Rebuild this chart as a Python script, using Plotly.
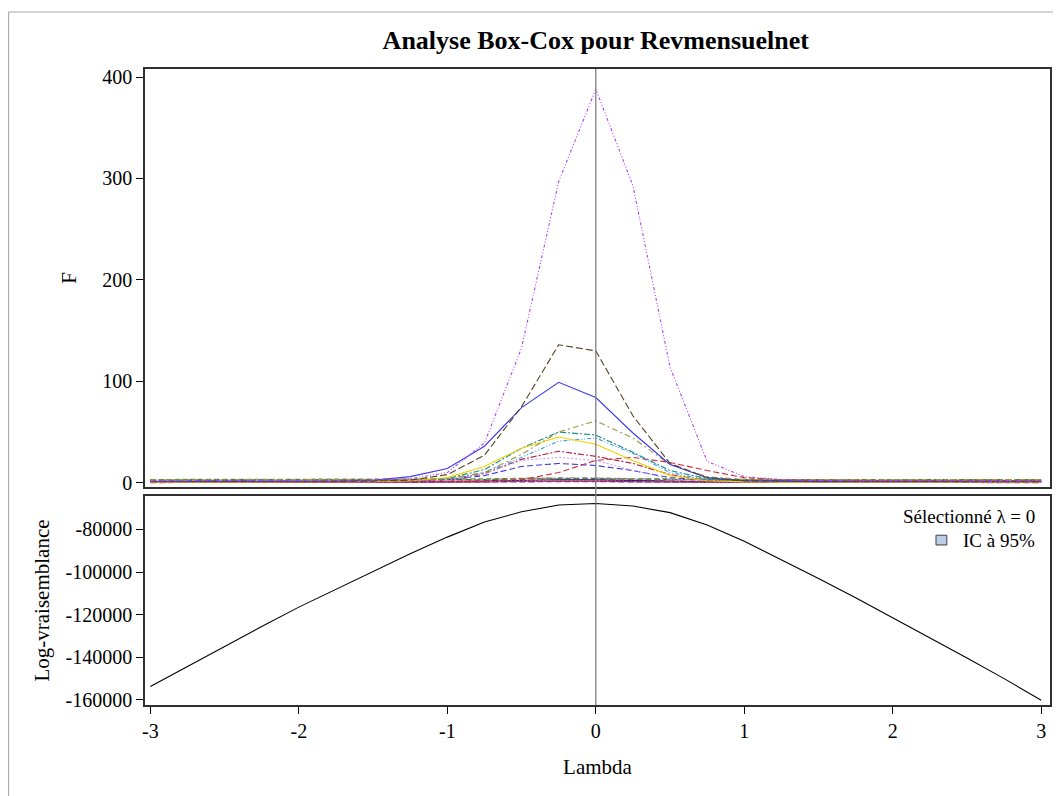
import plotly.graph_objects as go
from plotly.subplots import make_subplots

# ---------------- data ----------------
lambdas = [-3, -2.75, -2.5, -2.25, -2, -1.75, -1.5, -1.25, -1, -0.75, -0.5, -0.25,
           0, 0.25, 0.5, 0.75, 1, 1.25, 1.5, 1.75, 2, 2.25, 2.5, 2.75, 3]

F_violet = [1.8, 1.8, 1.9, 1.9, 2.0, 2.2, 2.6, 4, 10, 39, 133, 297, 388, 293, 114, 21, 6, 3, 2.2, 2, 1.9, 1.8, 1.8, 1.7, 1.7]
F_brun = [1.2, 1.2, 1.2, 1.3, 1.3, 1.4, 1.6, 2.5, 8, 27, 75, 136, 130, 66, 19, 5, 2, 1.5, 1.3, 1.2, 1.2, 1.2, 1.1, 1.1, 1.1]
F_bleu = [1.0, 1.0, 1.1, 1.1, 1.2, 1.5, 2.5, 6, 14, 36, 74, 99, 84, 49, 18, 5, 2, 1.3, 1.1, 1, 1, 1, 1, 1, 1]
F_olive = [2.8, 2.8, 2.8, 2.8, 2.9, 2.9, 3.0, 3.2, 4, 10, 28, 50, 61, 44, 18, 6, 3.2, 3, 2.9, 2.9, 2.9, 3, 3, 3, 3.1]
F_sarcelle = [0.8, 0.8, 0.8, 0.9, 0.9, 1, 1.2, 2, 4, 13, 34, 50, 47, 30, 12, 4, 1.5, 1, 0.9, 0.9, 0.8, 0.8, 0.8, 0.8, 0.8]
F_or = [0.5, 0.5, 0.5, 0.5, 0.6, 0.7, 1.0, 2, 5, 16, 34, 45, 38, 22, 7, 2, 0.8, 0.6, 0.5, 0.5, 0.5, 0.5, 0.5, 0.5, 0.5]
F_azur = [1.5, 1.5, 1.5, 1.5, 1.5, 1.6, 1.8, 2.2, 3, 10, 25, 41, 44, 29, 10, 3, 1.8, 1.6, 1.5, 1.5, 1.5, 1.5, 1.5, 1.5, 1.5]
F_cramoisi = [0.9, 0.9, 0.9, 0.9, 1.0, 1.0, 1.2, 1.5, 2, 9, 23, 31, 26, 19, 8, 2, 1.2, 1, 0.9, 0.9, 0.9, 0.9, 0.9, 0.9, 0.9]
F_lavande = [0.4, 0.4, 0.4, 0.4, 0.5, 0.6, 0.8, 1.2, 2, 9, 22, 25, 22, 12, 4, 1.5, 0.8, 0.6, 0.5, 0.4, 0.4, 0.4, 0.4, 0.4, 0.4]
F_bleu_tirets = [2.2, 2.2, 2.2, 2.2, 2.2, 2.3, 2.4, 2.6, 3, 7, 16, 19, 17, 12, 5, 2.5, 2.3, 2.2, 2.2, 2.2, 2.2, 2.2, 2.2, 2.2, 2.2]
F_rouge = [1.0, 1.0, 1.0, 1.0, 1.0, 1.0, 1.1, 1.2, 1.5, 2, 3, 10, 22, 25, 20, 12, 5, 3, 2.5, 2.2, 2.0, 1.9, 1.8, 1.8, 1.8]
F_vert_fonce = [2.6, 2.6, 2.6, 2.6, 2.6, 2.6, 2.7, 2.7, 2.8, 3.2, 3.8, 4.2, 4.0, 3.5, 3.0, 2.8, 2.7, 2.7, 2.7, 2.7, 2.7, 2.7, 2.8, 2.8, 2.8]
F_orange = [1.3, 1.3, 1.3, 1.3, 1.3, 1.3, 1.3, 1.4, 1.5, 2.0, 2.8, 3.2, 3.0, 2.4, 1.8, 1.5, 1.4, 1.3, 1.3, 1.3, 1.3, 1.3, 1.3, 1.3, 1.3]
F_rose = [0.3, 0.3, 0.3, 0.3, 0.3, 0.3, 0.3, 0.4, 0.5, 1.0, 1.8, 2.2, 2.0, 1.4, 0.8, 0.5, 0.4, 0.3, 0.3, 0.3, 0.3, 0.3, 0.3, 0.3, 0.3]
F_gris = [2.0, 2.0, 2.0, 2.0, 2.0, 2.0, 2.1, 2.2, 2.5, 3.2, 4.2, 5.0, 4.8, 3.8, 2.8, 2.3, 2.1, 2.0, 2.0, 2.0, 2.0, 2.0, 2.0, 2.0, 2.0]
F_marine = [0.6, 0.6, 0.6, 0.6, 0.6, 0.6, 0.6, 0.7, 0.9, 1.5, 2.5, 3.0, 2.8, 2.0, 1.2, 0.8, 0.7, 0.6, 0.6, 0.6, 0.6, 0.6, 0.6, 0.6, 0.6]
F_magenta = [0.1, 0.1, 0.1, 0.1, 0.1, 0.1, 0.1, 0.1, 0.2, 0.4, 0.8, 1.0, 0.9, 0.6, 0.3, 0.2, 0.1, 0.1, 0.1, 0.1, 0.1, 0.1, 0.1, 0.1, 0.1]
F_bordeaux = [0.2, 0.2, 0.2, 0.2, 0.2, 0.2, 0.2, 0.3, 0.4, 0.8, 1.4, 1.8, 1.6, 1.1, 0.6, 0.3, 0.2, 0.2, 0.2, 0.2, 0.2, 0.2, 0.2, 0.2, 0.2]
F_vert_olive = [3.2, 3.2, 3.2, 3.2, 3.2, 3.2, 3.2, 3.3, 3.4, 3.8, 4.4, 4.6, 4.4, 4.0, 3.6, 3.4, 3.3, 3.2, 3.2, 3.2, 3.2, 3.2, 3.2, 3.2, 3.2]

log_vraisemblance = [-153800, -144300, -134900, -125600, -116500, -108200, -99900, -91400, -83600,
                     -76500, -71700, -68500, -67800, -69000, -72100, -77900, -85500, -94100,
                     -103000, -112100, -121500, -131000, -140400, -150100, -160300]

F_ticks = [0, 100, 200, 300, 400]
LL_ticks = [-80000, -100000, -120000, -140000, -160000]
LL_ticktext = ["-80000", "-100000", "-120000", "-140000", "-160000"]
lambda_ticks = [-3, -2, -1, 0, 1, 2, 3]
lambda_ticktext = ["-3", "-2", "-1", "0", "1", "2", "3"]
lambda_choisi = 0

# (series, colour, dash)
series = [
    (F_vert_olive, "#7a8a2a", "5px,3px"),
    (F_vert_fonce, "#1f7a3a", "6px,3px"),
    (F_gris, "#8a8a8a", "5px,3px,1px,3px"),
    (F_bleu_tirets, "#3a3ad8", "6px,3px"),
    (F_azur, "#2e9cf0", "4px,2px,1px,2px,1px,2px"),
    (F_orange, "#e8801a", "5px,2px,1px,2px"),
    (F_rouge, "#d42a3c", "6px,3px"),
    (F_cramoisi, "#b01c3c", "6px,2px,2px,2px"),
    (F_marine, "#1a1a80", "solid"),
    (F_sarcelle, "#1a8a8a", "6px,2px,2px,2px"),
    (F_lavande, "#c89ef0", "2px,2px"),
    (F_bordeaux, "#8a1a4a", "solid"),
    (F_rose, "#e070b0", "2px,2px"),
    (F_magenta, "#a02080", "6px,3px"),
    (F_or, "#f2d000", "solid"),
    (F_olive, "#9a9a40", "6px,3px,2px,3px"),
    (F_bleu, "#3a3af0", "solid"),
    (F_brun, "#5a4020", "7px,3px"),
    (F_violet, "#b040f8", "3px,2px,1px,2px,1px,2px"),
]

SERIF = "Liberation Serif, Times New Roman, serif"

fig = make_subplots(rows=2, cols=1, shared_xaxes=True)

for vals, col, dash in series:
    fig.add_trace(go.Scatter(x=lambdas, y=vals, mode="lines",
                             line=dict(color=col, width=1.1, dash=dash),
                             showlegend=False, hoverinfo="skip"), row=1, col=1)

fig.add_trace(go.Scatter(x=lambdas, y=log_vraisemblance, mode="lines",
                         line=dict(color="black", width=1.1),
                         showlegend=False), row=2, col=1)

# vertical line at selected lambda across both panels
fig.add_shape(type="line", xref="x2", yref="paper", x0=lambda_choisi, x1=lambda_choisi,
              y0=0, y1=1, line=dict(color="#808080", width=1.3), layer="above")

# outer page border (left & top)
fig.add_shape(type="line", xref="paper", yref="paper", x0=-0.1508, x1=1.03,
              y0=1.0896, y1=1.0896, line=dict(color="#a8a8a8", width=1))
fig.add_shape(type="line", xref="paper", yref="paper", x0=-0.1508, x1=-0.1508,
              y0=-0.16, y1=1.0896, line=dict(color="#a8a8a8", width=1.2))

# legend box in lower panel
fig.add_annotation(xref="paper", yref="paper", x=0.986, y=0.297, xanchor="right", yanchor="middle",
                   text="Sélectionné λ = 0", showarrow=False,
                   font=dict(family=SERIF, size=19, color="black"))
fig.add_annotation(xref="paper", yref="paper", x=0.986, y=0.259, xanchor="right", yanchor="middle",
                   text="IC à 95%", showarrow=False,
                   font=dict(family=SERIF, size=19, color="black"))
fig.add_shape(type="rect", xref="paper", yref="paper", x0=0.874, x1=0.886,
              y0=0.2516, y1=0.267, fillcolor="#b8cde6", line=dict(color="#404040", width=1))

axis_common = dict(showline=True, linecolor="#303030", linewidth=1.5, mirror=True,
                   showgrid=False, zeroline=False, ticks="outside", ticklen=7,
                   tickcolor="black", tickwidth=1,
                   tickfont=dict(family=SERIF, size=20, color="black"))

fig.update_layout(
    width=1061, height=796,
    margin=dict(l=137, r=19, t=61, b=99),
    paper_bgcolor="white", plot_bgcolor="white",
    title=dict(text="<b>Analyse Box-Cox pour Revmensuelnet</b>", x=0.554, xanchor="center",
               y=1 - 32 / 796, yanchor="middle", yref="container",
               font=dict(family=SERIF, size=26, color="black")),
    xaxis=dict(axis_common, domain=[0, 1], range=[-3.036, 3.059], showticklabels=False,
               ticks="", tickvals=lambda_ticks),
    xaxis2=dict(axis_common, domain=[0, 1], range=[-3.036, 3.059], tickvals=lambda_ticks,
                ticktext=lambda_ticktext,
                title=dict(text="Lambda", standoff=19, font=dict(family=SERIF, size=21, color="black"))),
    yaxis=dict(axis_common, domain=[0.3428, 1], range=[-4.2, 407.9], tickvals=F_ticks,
               title=dict(text="F", standoff=20, font=dict(family=SERIF, size=21, color="black"))),
    yaxis2=dict(axis_common, domain=[0, 0.3286], range=[-162500, -64280], tickvals=LL_ticks,
                ticktext=LL_ticktext,
                title=dict(text="Log-vraisemblance", standoff=10, font=dict(family=SERIF, size=21, color="black"))),
)

fig.write_html("out.html")
